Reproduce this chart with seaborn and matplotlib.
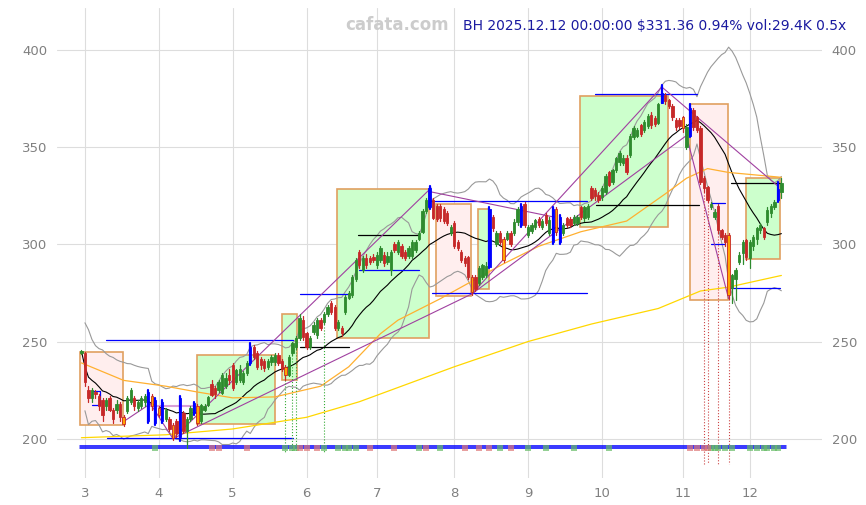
import numpy as np
import pandas as pd
import matplotlib
matplotlib.use("Agg")
import matplotlib.pyplot as plt
import seaborn as sns
from matplotlib.patches import Rectangle

# ---- dados diarios BH (pregoes de 28/02 a 12/12/2025) ----
feriados = ['2025-04-18', '2025-05-26', '2025-06-19', '2025-07-04', '2025-09-01', '2025-11-27']

abertura = [244, 244, 225, 221, 224, 222, 220, 217, 221, 215, 215, 218, 211, 214, 219, 221, 216, 217, 219, 224,
            222, 220, 216, 219, 210, 210, 207, 209, 201, 213, 204, 210, 213, 217, 209, 215, 217.5, 228, 226, 225,
            223.6, 227, 233, 238, 229, 230, 229, 234, 239, 247, 244, 241, 240, 237, 239.6, 239.6, 243, 240, 237, 233,
            244, 247, 252, 261, 254.5, 247, 255, 253.5, 261, 260, 264, 270, 268, 257, 257, 265, 272.5, 274, 282, 296,
            287, 293, 293, 293.6, 289.5, 292, 294.6, 291, 287, 300, 296, 299, 296, 294, 294, 297, 303, 306.5, 317, 319,
            323, 320, 320, 318, 316, 306, 311, 301, 296, 293, 293.6, 283, 283, 280, 283, 284, 288.5, 314, 300, 306,
            303, 303, 306, 306, 311.6, 310, 321, 305, 307, 309, 313, 309, 315, 306, 318, 318, 314, 306, 313.7, 313,
            311, 311, 319, 313.7, 314, 329, 328, 325.5, 324.5, 327, 337, 332, 338.4, 342.5, 342, 344.5, 346, 355, 356, 361.5,
            359, 361, 366.7, 365, 362.6, 373, 377, 374.4, 371, 364, 364, 365.6, 350, 356, 369, 365.6, 360, 334, 329.6, 319,
            314, 320, 307.5, 305, 305, 277.7, 282, 291, 295.7, 302, 293, 299, 303, 307.5, 308.5, 311.6, 316, 319, 323, 327]
maxima = [245.5, 244.5, 227, 226, 225, 223, 221, 221, 222, 216, 220, 219, 212, 222, 226, 222, 220, 222, 223, 225,
          223, 221, 217, 220, 216, 211, 208, 210, 222, 214, 211, 217, 219, 218, 218, 218, 222, 230, 227, 230,
          234, 234, 236, 239, 236, 238, 235, 240, 249, 248, 245, 242, 241, 241, 243, 244, 244, 241, 238, 243,
          250, 253, 264, 263, 255, 253, 260, 262, 262, 265, 269, 271, 269, 261, 258, 274, 276, 284, 293, 297,
          294, 295, 294, 295, 296, 299, 296, 296, 297, 301, 302, 300, 297, 299, 302, 302, 307, 318, 324, 330,
          324, 321, 321, 319, 317, 310, 312, 302, 297, 294, 294, 284, 284, 289, 290, 291, 319, 315, 307, 307,
          304, 307, 307, 313, 319, 321, 322, 310, 311, 313, 314, 313, 316, 314, 319, 319, 315, 311, 314, 314,
          315, 315, 320, 320, 321, 330, 329, 327, 330, 336, 338, 339, 345, 348, 346, 346, 357, 361, 360, 362,
          364, 367, 368, 366, 373, 382, 378, 375, 372, 365, 365, 366, 362, 372, 370, 366, 361, 335, 330, 322,
          318, 321, 308, 306, 306, 285, 288, 296, 302, 303, 302, 305, 309, 311, 309, 319, 321, 323, 332, 334]
minima = [243.5, 227, 219, 219, 221, 215, 209, 215, 214, 208, 213, 209, 206.5, 213, 218, 215, 214, 216, 217, 208,
          215, 207, 211, 208, 209, 204, 199.5, 201, 199, 203, 195, 209, 212, 207, 208, 214, 217, 222, 221, 224,
          223, 226, 228, 225, 228, 229, 228, 233, 238, 241, 236, 236, 235, 236, 238, 238, 238, 235, 230, 232,
          243, 246, 251, 251, 246, 246, 254, 252, 256, 259, 263, 264, 256, 256, 253, 264, 272, 273, 281, 288,
          286, 288, 290, 291, 288, 291, 289, 290, 284, 296, 295, 293, 292, 293, 293, 296, 302, 306, 316, 318,
          313, 312, 312, 311, 310, 305, 298, 297, 291, 289, 282, 274, 276, 279, 282, 283, 288, 307, 299, 300,
          291, 302, 299, 305, 310, 309, 309, 304, 306, 308, 309, 308, 310, 305, 300, 305, 300, 305, 309, 309,
          310, 310, 313, 312, 313, 323, 323, 322, 323, 326, 330, 331, 337, 341, 341, 336, 345, 354, 355, 356,
          358, 360, 360, 361, 362, 373, 372, 370, 364, 359, 360, 358, 349, 355, 359, 358, 331, 327, 322, 318,
          313, 306, 303, 299, 272, 270, 271.5, 290, 290, 292, 288, 297, 300, 306, 303, 310, 314, 318, 322, 324]
fechamento = [245, 229, 221, 225, 223, 217, 212, 220, 215, 210, 218, 211, 207.5, 221, 225, 217, 219, 221, 222, 209,
              217, 208, 212, 209, 215, 205, 200.5, 203, 221, 204, 210, 216, 218.5, 208, 217.5, 217, 221.6, 222.6, 223, 229,
              233, 231, 230, 226, 235.5, 236, 234, 239, 247, 242, 237, 238, 236.5, 240, 242, 243, 239, 236, 233, 242,
              249, 252, 262, 252.5, 247, 252, 258.6, 261, 257, 264, 268, 265, 257, 260, 254.5, 273, 275, 283, 292, 289.5,
              293, 289.5, 291, 292, 294.6, 298, 290.5, 294, 296, 297, 301, 294, 293, 298, 301, 301, 306, 317, 323, 329,
              313.7, 313, 313.7, 312, 311, 309, 299, 298, 292, 290.5, 283, 275.6, 277, 288, 289.5, 289, 318, 308.5, 306, 301,
              292, 306, 300, 311.6, 318, 320, 310, 309, 310, 312.6, 310, 312, 311, 312.6, 301, 306.5, 301, 310, 310, 310,
              314, 314, 314, 319, 320, 324, 325, 323, 329, 335, 330.6, 338.4, 344.5, 347, 344.5, 337, 356, 360, 359, 357,
              363, 366, 361.5, 362, 372, 378, 374, 371, 365.6, 360.5, 361, 360, 360.5, 370, 360.5, 359, 332, 329, 323, 321,
              316.8, 307.5, 304, 301, 274, 284, 287, 294.6, 301, 293.6, 301, 304, 308.5, 310, 304, 317.8, 320, 322, 328.3, 331.4]

# candles destacados no grafico original
idx_azul = [19, 21, 23, 28, 32, 48, 99, 116, 125, 134, 136, 165, 173, 198]
idx_laranja = [12, 20, 22, 26, 33, 58, 111, 120, 135, 171, 184]

# medias longas (indice do pregao, preco)
media_laranja_idx = [0, 12, 24, 33, 43, 55, 68, 76, 85, 90, 102, 111, 120, 130, 142, 155, 166, 172, 178, 184, 199]
media_laranja_val = [239, 230, 227, 224, 221, 221.5, 227, 237, 254, 261, 272, 281, 290, 299, 306.5, 312, 326, 334, 339, 337, 334.5]
media_amarela_idx = [0, 24, 43, 64, 79, 106, 127, 145, 164, 176, 184, 199]
media_amarela_val = [200.5, 202, 205, 211, 219, 237, 250, 259, 267, 276, 278, 284]

# caixas de tendencia: inicio, fim, minimo, maximo, tipo
caixa_ini = [-0.3, 32.9, 57.0, 72.8, 100.9, 112.8, 141.7, 172.9, 188.8]
caixa_fim = [11.9, 55.0, 61.2, 98.9, 110.8, 115.9, 166.7, 183.7, 198.7]
caixa_min = [207.2, 207.7, 230.3, 252.0, 273.6, 277.0, 309.0, 271.5, 292.6]
caixa_max = [244.7, 243.2, 264.3, 328.6, 320.9, 318.3, 376.4, 372.3, 334.3]
caixa_alta = [False, True, True, True, False, True, True, False, True]

# suportes / resistencias (preco, inicio, fim, cor)
linha_preco = [250.7, 200.3, 274.6, 247.3, 304.9, 287.0, 322.4, 275.1, 377.5, 320.4, 321.4, 300.3, 331.7, 277.7, 224.7, 217.5]
linha_ini = [7.1, 7.4, 62.1, 62.1, 78.5, 78.8, 98.9, 99.8, 146.0, 146.3, 178.9, 178.9, 184.8, 184.8, 3.0, 3.0]
linha_fim = [60.1, 60.1, 76.2, 76.2, 96.1, 96.1, 143.7, 143.7, 174.9, 175.5, 183.1, 183.1, 198.7, 198.7, 5.4, 5.4]
linha_cor = ['blue', 'blue', 'blue', 'black', 'black', 'blue', 'blue', 'blue', 'blue', 'black', 'blue', 'blue', 'black', 'blue', 'blue', 'blue']

# linhas de tendencia roxas (x0, y0, x1, y1)
tend_x0 = [11.9, 19.6, 26.0, 26.0, 99.4, 111.0, 172.0, 165.0, 111.0]
tend_y0 = [208.7, 218.0, 200.0, 200.0, 327.0, 274.5, 356.0, 381.0, 274.5]
tend_x1 = [19.6, 26.0, 99.4, 111.0, 134.5, 172.0, 184.0, 198.0, 165.0]
tend_y1 = [218.0, 200.0, 329.0, 274.5, 314.0, 356.0, 272.0, 330.0, 381.0]

# sinais pontilhados
sinal_compra = [58, 60, 61, 69]
sinal_venda = [177, 178, 181, 184]

# marcadores de volume no rodape
vol_alta = [21, 58, 60, 61, 69, 73, 75, 76, 78, 96, 102, 119, 127, 132, 140, 150, 179, 180, 181, 183, 185, 190, 192, 194, 195, 197, 198]
vol_baixa = [37, 39, 47, 62, 64, 67, 82, 89, 98, 109, 113, 116, 122, 173, 175, 177, 178]

# ---- montando o DataFrame ----
datas = pd.bdate_range('2025-02-28', '2025-12-12').drop(pd.to_datetime(feriados))
df = pd.DataFrame({'data': datas, 'abertura': abertura, 'maxima': maxima,
                   'minima': minima, 'fechamento': fechamento})
df['i'] = np.arange(len(df))
df['mm20'] = df['fechamento'].rolling(20, min_periods=1).mean()
desvio = df['fechamento'].rolling(20, min_periods=2).std()
df['banda_sup'] = df['mm20'] + 2 * desvio
df['banda_inf'] = df['mm20'] - 2 * desvio

sns.set_theme(style="whitegrid")
plt.rcParams['font.family'] = ['DejaVu Sans']

fig = plt.figure(figsize=(8.66, 5.05), dpi=100)
ax = fig.add_axes([0.066, 0.054, 0.883, 0.93])
ax.set_facecolor('white')

# caixas
for k in range(len(caixa_ini)):
    cor = '#ccffcc' if caixa_alta[k] else '#ffeeee'
    ax.add_patch(Rectangle((caixa_ini[k], caixa_min[k]), caixa_fim[k] - caixa_ini[k],
                           caixa_max[k] - caixa_min[k], facecolor=cor, edgecolor='#e0a060',
                           lw=1.2, zorder=1))

# bandas e medias
sns.lineplot(x=df['i'], y=df['banda_sup'], ax=ax, color='#999999', lw=0.8, zorder=2)
sns.lineplot(x=df['i'], y=df['banda_inf'], ax=ax, color='#999999', lw=0.8, zorder=2)
sns.lineplot(x=df['i'], y=df['mm20'], ax=ax, color='black', lw=0.8, zorder=3)
sns.lineplot(x=media_laranja_idx, y=media_laranja_val, ax=ax, color='#ffb030', lw=0.9, zorder=3)
sns.lineplot(x=media_amarela_idx, y=media_amarela_val, ax=ax, color='#ffd700', lw=0.9, zorder=3)

# linhas horizontais
for k in range(len(linha_preco)):
    ax.plot([linha_ini[k], linha_fim[k]], [linha_preco[k]] * 2, color=linha_cor[k], lw=0.9, zorder=4)
ax.plot([5.4, 5.4], [217.5, 224.7], color='blue', lw=0.9, zorder=4)
ax.plot([19.6, 32.3], [217, 217], color='#d8a0d8', lw=1.5, zorder=4)

# tendencias
for k in range(len(tend_x0)):
    ax.plot([tend_x0[k], tend_x1[k]], [tend_y0[k], tend_y1[k]], color='#a040a0', lw=0.8, zorder=4)

# sinais
for j in sinal_compra:
    ax.plot([j, j], [df['minima'][j], 193], color='#33aa33', lw=0.8, ls=':', zorder=4)
for j in sinal_venda:
    ax.plot([j, j], [df['minima'][j], 187], color='#cc4444', lw=0.8, ls=':', zorder=4)

# candles
for _, r in df.iterrows():
    j = int(r['i'])
    sobe = r['fechamento'] >= r['abertura']
    cor = '#2e8b2e' if sobe else '#c62828'
    face = cor
    lw = 0.9
    if j in idx_azul:
        cor = face = 'blue'
        lw = 1.6
    elif j in idx_laranja:
        face = '#ffa500'
    ax.plot([j, j], [r['minima'], r['maxima']], color=cor, lw=lw, zorder=5)
    base = min(r['abertura'], r['fechamento'])
    alt = max(abs(r['fechamento'] - r['abertura']), 0.4)
    ax.add_patch(Rectangle((j - 0.33, base), 0.66, alt, facecolor=face, edgecolor=cor,
                           lw=0.6, zorder=6))

# rodape
ax.plot([-0.3, 200.3], [196.1, 196.1], color='blue', lw=1.1, zorder=4)
ax.plot([-0.3, 200.3], [195.1, 195.1], color='blue', lw=1.1, zorder=4)
ax.scatter(vol_alta, [195.4] * len(vol_alta), marker='s', s=16, color='#66bb66', alpha=0.7, zorder=5, linewidths=0)
ax.scatter(vol_baixa, [195.4] * len(vol_baixa), marker='s', s=16, color='#dd7777', alpha=0.7, zorder=5, linewidths=0)

# eixos
meses = pd.Series(df['data'].dt.month)
pos_mes = meses[meses != meses.shift()].index[1:]
ax.set_xticks(pos_mes)
ax.set_xticklabels([str(m) for m in meses[pos_mes]])
ax.set_yticks([200, 250, 300, 350, 400])
ax.set_xlim(-6.9, 210.5)
ax.set_ylim(179.9, 421.6)
ax.tick_params(axis='both', colors='#808080', labelsize=9.5, length=0, pad=7)
ax.tick_params(axis='y', labelright=True)
ax.grid(True, color='#dddddd', lw=0.8)
for s in ax.spines.values():
    s.set_visible(False)
ax.set_xlabel('')
ax.set_ylabel('')

fig.text(397 / 866, 1 - 25 / 505, 'cafata.com', ha='center', va='center', fontsize=12,
         fontweight='bold', color='#cccccc')
fig.text(463 / 866, 1 - 26 / 505, 'BH 2025.12.12 00:00:00 $331.36 0.94% vol:29.4K 0.5x',
         ha='left', va='center', fontsize=10, color='#1a1aa0')

fig.savefig('out.png', dpi=100)
